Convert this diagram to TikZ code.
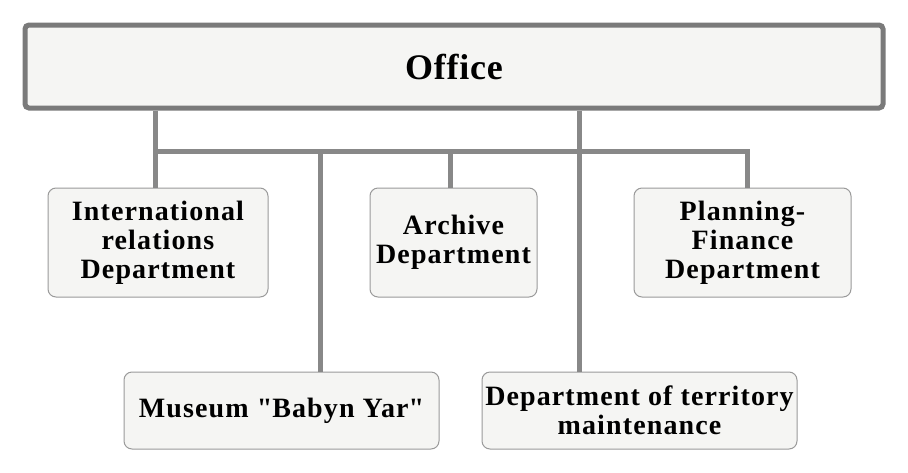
\documentclass[tikz,border=0pt]{standalone}
\usepackage{fontspec}
\setmainfont{Liberation Serif}[LetterSpace=4]
\newfontfamily\officefont{Liberation Serif}[LetterSpace=2]
\definecolor{linegray}{HTML}{888888}
\definecolor{boxgray}{HTML}{9A9A9A}
\definecolor{boxfill}{HTML}{F5F5F3}
\tikzset{
  dept/.style={draw=boxgray, line width=1pt, fill=boxfill, rounded corners=8pt,
    align=center, inner sep=0pt, font=\bfseries\fontsize{28}{29}\selectfont},
  officebox/.style={draw=linegray!90!black, line width=5pt, fill=boxfill, rounded corners=4pt,
    inner sep=0pt, font=\officefont\bfseries\fontsize{36}{38}\selectfont},
  conn/.style={draw=linegray, line width=5pt, line join=miter}
}
\begin{document}
\begin{tikzpicture}[x=1pt,y=-1pt]
\useasboundingbox (0,0) rectangle (908,472);
\node[officebox, minimum width=858pt, minimum height=83pt] (office) at (454,66.5) {Office};
\node[dept, minimum width=220pt, minimum height=109pt] (intl) at (158,242.5) {International\\relations\\Department};
\node[dept, minimum width=167pt, minimum height=109pt] (archive) at (453.5,242.5) {Archive\\Department};
\node[dept, minimum width=217pt, minimum height=109pt] (plan) at (742.5,242.5) {Planning-\\Finance\\Department};
\node[dept, minimum width=315pt, minimum height=77pt] (museum) at (281.5,410.5) {Museum \textquotedbl Babyn Yar\textquotedbl};
\node[dept, minimum width=315pt, minimum height=77pt] (terr) at (639.5,410.5) {Department of territory\\maintenance};
\coordinate (bL) at (155,151);
\coordinate (bR) at (747,151);
\coordinate (bM) at (320,151);
\coordinate (bA) at (450,151);
\coordinate (bT) at (579,151);
\draw[conn] (office.south -| bL) -- (bL) -- (bR) -- (plan.north -| bR);
\draw[conn] (bL) -- (intl.north -| bL);
\draw[conn] (bM) -- (museum.north -| bM);
\draw[conn] (bA) -- (archive.north -| bA);
\draw[conn] (office.south -| bT) -- (terr.north -| bT);
\end{tikzpicture}
\end{document}
